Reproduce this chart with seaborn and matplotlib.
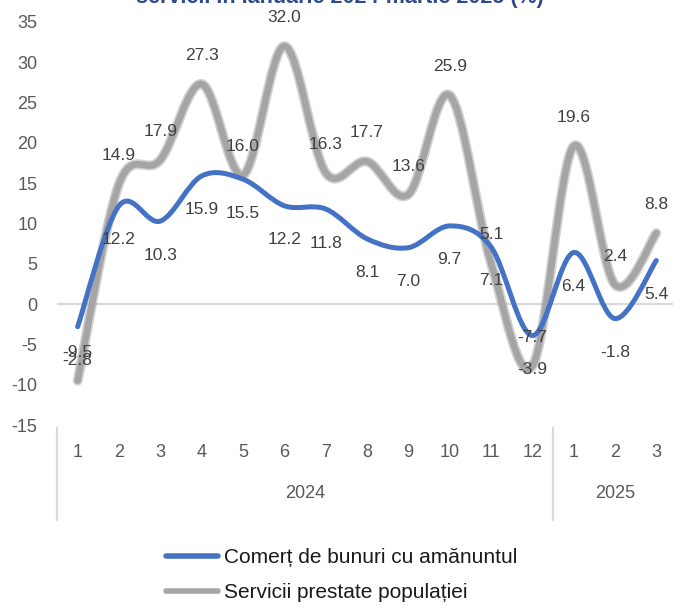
import matplotlib
matplotlib.use('Agg')
import matplotlib.pyplot as plt
import matplotlib.patheffects as pe
from matplotlib.path import Path
from matplotlib.patches import PathPatch
from matplotlib.lines import Line2D
import numpy as np
import pandas as pd
import seaborn as sns

# values
months = ['1', '2', '3', '4', '5', '6', '7', '8', '9', '10', '11', '12', '1', '2', '3']
years = ['2024', '2025']
months_per_year = [12, 3]
comert = [-2.8, 12.2, 10.3, 15.9, 15.5, 12.2, 11.8, 8.1, 7.0, 9.7, 7.1, -3.9, 6.4, -1.8, 5.4]
servicii = [-9.5, 14.9, 17.9, 27.3, 16.0, 32.0, 16.3, 17.7, 13.6, 25.9, 5.1, -7.7, 19.6, 2.4, 8.8]
series_names = ['Comerț de bunuri cu amănuntul', 'Servicii prestate populației']
colors = ['#4472C4', '#A5A5A5']

df = pd.DataFrame({
    'pos': list(range(len(months))) * 2,
    'val': comert + servicii,
    'serie': [series_names[0]] * len(comert) + [series_names[1]] * len(servicii),
})

sns.set_style('white')
plt.rcParams['font.family'] = ['Liberation Sans', 'DejaVu Sans']
plt.rcParams['axes.unicode_minus'] = False

fig = plt.figure(figsize=(6.73, 6.08), dpi=100)
ax = fig.add_axes([57 / 673, 1 - 425 / 608, 620 / 673, 403 / 608])

sns.lineplot(data=df, x='pos', y='val', hue='serie', palette=colors, legend=False, ax=ax,
             errorbar=None, sort=True)


def smooth_path(xs, ys):
    # excel-like smoothing: catmull-rom segments as cubic bezier curves
    pts = np.column_stack([xs, ys])
    n = len(pts)
    verts = [pts[0]]
    codes = [Path.MOVETO]
    for i in range(n - 1):
        p0 = pts[i - 1] if i > 0 else pts[i]
        p1 = pts[i]
        p2 = pts[i + 1]
        p3 = pts[i + 2] if i + 2 < n else pts[i + 1]
        verts += [p1 + (p2 - p0) / 6, p2 - (p3 - p1) / 6, p2]
        codes += [Path.CURVE4] * 3
    return Path(verts, codes)


# smooth the seaborn lines, grey behind blue
widths = {colors[0]: 3.6, colors[1]: 4.8}
lines = list(ax.get_lines())
for ln, col, z in zip(lines, colors, [4, 3]):
    xs, ys = ln.get_xdata(), ln.get_ydata()
    ln.set_visible(False)
    patch = PathPatch(smooth_path(xs, ys), fill=False, edgecolor=col, lw=widths[col],
                      capstyle='round', joinstyle='round', zorder=z)
    if col == colors[1]:
        patch.set_path_effects([pe.Stroke(linewidth=7.2, foreground='#999999', alpha=0.45),
                                pe.Normal()])
    ax.add_patch(patch)

# data labels: grey above, blue below
for i, v in enumerate(servicii):
    ax.annotate(f'{v:.1f}', (i, v), xytext=(0, 20.5), textcoords='offset points',
                ha='center', va='center', fontsize=12.5, color='#404040', zorder=6)
for i, v in enumerate(comert):
    ax.annotate(f'{v:.1f}', (i, v), xytext=(0, -24.5), textcoords='offset points',
                ha='center', va='center', fontsize=12.5, color='#404040', zorder=6)

ax.set_xlim(-0.5, len(months) - 0.5)
ax.set_ylim(-15, 35)
ax.set_yticks(range(-15, 36, 5))
ax.tick_params(axis='y', labelsize=13, labelcolor='#595959', length=0, pad=14)
ax.set_xticks([])
ax.set_xlabel('')
ax.set_ylabel('')
for s in ax.spines.values():
    s.set_visible(False)
ax.axhline(0, color='#D9D9D9', lw=1.6, zorder=1)

# multi-level category axis
trans = ax.get_xaxis_transform()
for i, m in enumerate(months):
    ax.text(i, -0.067, m, transform=trans, ha='center', va='center', fontsize=13, color='#595959')
start = 0
for y, n in zip(years, months_per_year):
    ax.text(start + (n - 1) / 2, -0.17, y, transform=trans, ha='center', va='center',
            fontsize=13, color='#595959')
    ax.plot([start - 0.5, start - 0.5], [-0.007, -0.236], transform=trans, color='#D9D9D9',
            lw=1.6, clip_on=False)
    start += n

# title (cut off at top of the image)
fig.text(0.505, 1 - 3 / 608, 'servicii în ianuarie 2024-martie 2025 (%)', ha='center',
         va='baseline', fontsize=15.5, weight='bold', color='#2F4A8A')

handles = [Line2D([], [], color=c, lw=4, solid_capstyle='round') for c in colors]
fig.legend(handles, series_names, loc='center left', bbox_to_anchor=(166 / 673, 1 - 575 / 608),
           frameon=False, fontsize=15, handlelength=2.5, handletextpad=0.3, labelspacing=0.75,
           borderpad=0, borderaxespad=0, labelcolor='#1a1a1a')

fig.savefig('out.png', dpi=100)
